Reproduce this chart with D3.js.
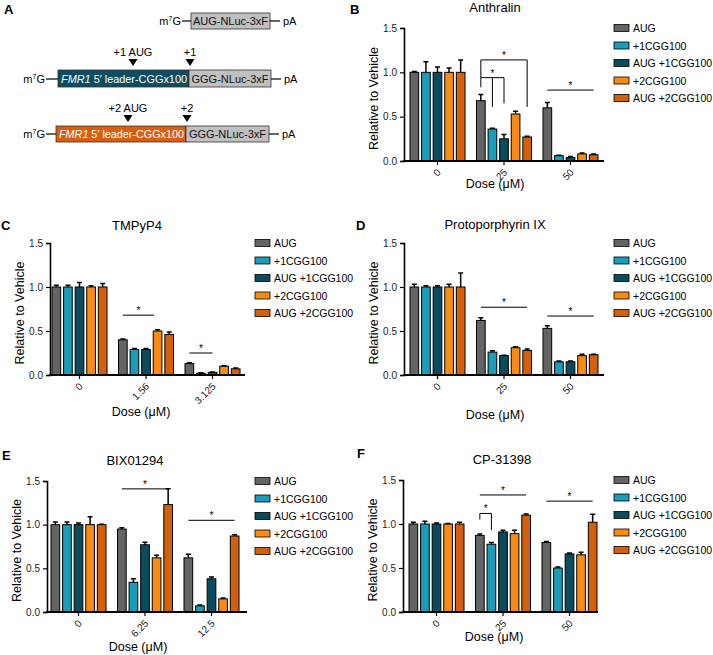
<!DOCTYPE html>
<html>
<head>
<meta charset="utf-8">
<script src="https://cdn.jsdelivr.net/npm/d3@7"></script>
<style>
  body { margin: 0; background: #fff; }
  svg { font-family: Arial, "Liberation Sans", Helvetica, sans-serif; }
</style>
</head>
<body>
<div id="chart"></div>
<script>
// series shared by every panel
var series = ["AUG", "+1CGG100", "AUG +1CGG100", "+2CGG100", "AUG +2CGG100"];
var seriesColors = ["#646464", "#1b9cb8", "#0c4a5d", "#f98b12", "#d4600c"];
var yTicks = [0, 0.5, 1.0, 1.5];

// B - Anthralin
var anthralinDoses = ["0", "25", "50"];
var anthralinMean = [[1.0, 1.0, 1.0, 1.0, 1.0], [0.68, 0.36, 0.25, 0.53, 0.27], [0.60, 0.06, 0.04, 0.08, 0.07]];
var anthralinErr = [[0.01, 0.12, 0.06, 0.05, 0.14], [0.07, 0.01, 0.05, 0.03, 0.01], [0.06, 0.005, 0.01, 0.01, 0.01]];
var anthralinSig = [
  {g: 1, from: 0, to: 4, y: 1.14, legs: [[0, 0.94], [4, 0.61]]},
  {g: 1, from: 0, to: 2, y: 0.94, legs: [[0, 0.83], [1, 0.61], [2, 0.65]]},
  {g: 2, from: 0, to: 4, y: 0.80, legs: []}
];

// C - TMPyP4
var tmpypDoses = ["0", "1.56", "3.125"];
var tmpypMean = [[1.0, 1.0, 1.0, 1.0, 1.0], [0.40, 0.29, 0.29, 0.50, 0.46], [0.13, 0.02, 0.03, 0.10, 0.07]];
var tmpypErr = [[0.02, 0.02, 0.05, 0.015, 0.04], [0.01, 0.01, 0.01, 0.015, 0.03], [0.01, 0.005, 0.005, 0.005, 0.01]];
var tmpypSig = [
  {g: 1, from: 0, to: 2.7, y: 0.68, legs: []},
  {g: 2, from: 0, to: 2, y: 0.25, legs: []}
];

// D - Protoporphyrin IX
var ppixDoses = ["0", "25", "50"];
var ppixMean = [[1.0, 1.0, 1.0, 1.0, 1.0], [0.62, 0.26, 0.22, 0.31, 0.28], [0.53, 0.15, 0.15, 0.22, 0.23]];
var ppixErr = [[0.03, 0.015, 0.015, 0.03, 0.16], [0.03, 0.015, 0.005, 0.01, 0.015], [0.03, 0.01, 0.01, 0.015, 0.005]];
var ppixSig = [
  {g: 1, from: 0, to: 4, y: 0.77, legs: []},
  {g: 2, from: 0, to: 4, y: 0.67, legs: []}
];

// E - BIX01294
var bixDoses = ["0", "6.25", "12.5"];
var bixMean = [[1.0, 1.0, 1.0, 1.0, 1.0], [0.95, 0.34, 0.77, 0.62, 1.23], [0.62, 0.07, 0.38, 0.15, 0.87]];
var bixErr = [[0.03, 0.03, 0.02, 0.09, 0.005], [0.015, 0.04, 0.03, 0.03, 0.18], [0.04, 0.01, 0.02, 0.01, 0.015]];
var bixSig = [
  {g: 1, from: 0, to: 4, y: 1.41, legs: []},
  {g: 2, from: 0, to: 4, y: 1.05, legs: []}
];

// F - CP-31398
var cpDoses = ["0", "25", "50"];
var cpMean = [[1.0, 1.0, 1.0, 1.0, 1.0], [0.87, 0.77, 0.91, 0.89, 1.10], [0.79, 0.50, 0.66, 0.65, 1.02]];
var cpErr = [[0.02, 0.03, 0.01, 0.005, 0.02], [0.015, 0.02, 0.02, 0.04, 0.015], [0.01, 0.01, 0.01, 0.03, 0.09]];
var cpSig = [
  {g: 1, from: 0, to: 4, y: 1.33, legs: []},
  {g: 1, from: 0, to: 1, y: 1.12, legs: [[0, 1.05], [1, 0.93]]},
  {g: 2, from: 0, to: 4, y: 1.26, legs: []}
];

var svg = d3.select("#chart").append("svg")
    .attr("width", 713)
    .attr("height", 655);

// ---------------- panel A: construct diagrams ----------------
var diag = svg.append("g").attr("font-size", "11px");

function m7G(x, y) {
  var t = diag.append("text").attr("x", x).attr("y", y).attr("text-anchor", "end");
  t.append("tspan").text("m");
  t.append("tspan").attr("font-size", "7px").attr("dy", -4).text("7");
  t.append("tspan").attr("dy", 4).text("G");
}
function tail(x, y) {
  diag.append("line").attr("x1", x).attr("x2", x + 10).attr("y1", y).attr("y2", y)
    .attr("stroke", "#000").attr("stroke-width", 1.2);
  diag.append("text").attr("x", x + 13).attr("y", y + 4).text("pA");
}
function box(x, y, w, h, fill, label, color) {
  diag.append("rect").attr("x", x).attr("y", y).attr("width", w).attr("height", h)
    .attr("fill", fill).attr("stroke", "#333").attr("stroke-width", 0.8);
  if (label) {
    diag.append("text").attr("x", x + w / 2).attr("y", y + h / 2 + 4)
      .attr("text-anchor", "middle").attr("fill", color).text(label);
  }
}
function leaderBox(x, y, w, h, fill) {
  box(x, y, w, h, fill);
  var t = diag.append("text").attr("x", x + 3).attr("y", y + h / 2 + 4).attr("fill", "#fff")
    .attr("textLength", w - 5).attr("lengthAdjust", "spacingAndGlyphs");
  t.append("tspan").attr("font-style", "italic").text("FMR1");
  t.append("tspan").text(" 5\u2032 leader-CGGx100");
}
function marker(x, y, label) {
  diag.append("path").attr("d", "M" + (x - 4.5) + "," + y + "L" + (x + 4.5) + "," + y + "L" + x + "," + (y + 7) + "Z")
    .attr("fill", "#000");
  diag.append("text").attr("x", x).attr("y", y - 3).attr("text-anchor", "middle").text(label);
}

// row 1
m7G(181, 25);
diag.append("line").attr("x1", 182).attr("x2", 191).attr("y1", 21).attr("y2", 21).attr("stroke", "#000").attr("stroke-width", 1.2);
box(191, 13, 79, 16, "#c0c0c0", "AUG-NLuc-3xF", "#111");
tail(270, 21);
// row 2
marker(133, 59, "+1 AUG");
marker(190, 59, "+1");
m7G(45, 83);
diag.append("line").attr("x1", 46).attr("x2", 58).attr("y1", 79).attr("y2", 79).attr("stroke", "#000").attr("stroke-width", 1.2);
leaderBox(58, 70, 131, 17, "#0d4d61");
box(189, 70, 82, 17, "#c0c0c0", "GGG-NLuc-3xF", "#111");
tail(271, 79);
// row 3
marker(128, 115, "+2 AUG");
marker(187, 115, "+2");
m7G(45, 138);
diag.append("line").attr("x1", 46).attr("x2", 56).attr("y1", 134).attr("y2", 134).attr("stroke", "#000").attr("stroke-width", 1.2);
leaderBox(56, 126, 130, 16, "#d95f0e");
box(186, 126, 83, 16, "#c0c0c0", "GGG-NLuc-3xF", "#111");
tail(269, 134);

svg.append("text").attr("x", 4).attr("y", 14).attr("font-weight", "bold").attr("font-size", "13px").text("A");

// ---------------- bar chart panels ----------------
var panels = [
  {letter: "B", lx: 350, ly: 14, title: "Anthralin", tx: 495, ty: 12, doses: anthralinDoses, mean: anthralinMean, err: anthralinErr, sig: anthralinSig,
   ax: 404, y0: 161, y15: 28, xEnd: 604, off: 6, legX: 614, doseDy: 27},
  {letter: "C", lx: 1, ly: 230, title: "TMPyP4", tx: 137, ty: 230, doses: tmpypDoses, mean: tmpypMean, err: tmpypErr, sig: tmpypSig,
   ax: 50, y0: 375, y15: 243, xEnd: 245, off: 2, legX: 255, doseDy: 41},
  {letter: "D", lx: 356, ly: 230, title: "Protoporphyrin IX", tx: 495, ty: 229, doses: ppixDoses, mean: ppixMean, err: ppixErr, sig: ppixSig,
   ax: 404, y0: 375, y15: 243, xEnd: 604, off: 6, legX: 614, doseDy: 44},
  {letter: "E", lx: 2, ly: 460, title: "BIX01294", tx: 135, ty: 465, doses: bixDoses, mean: bixMean, err: bixErr, sig: bixSig,
   ax: 47, y0: 612, y15: 481, xEnd: 247, off: 4, legX: 255, doseDy: 39},
  {letter: "F", lx: 357, ly: 458, title: "CP-31398", tx: 502, ty: 464, doses: cpDoses, mean: cpMean, err: cpErr, sig: cpSig,
   ax: 403, y0: 612, y15: 480, xEnd: 598, off: 6, legX: 614, doseDy: 29}
];

panels.forEach(drawPanel);

function drawPanel(p) {
  var g = svg.append("g");

  var y = d3.scaleLinear().domain([0, 1.5]).range([p.y0, p.y15]);
  var x0 = d3.scaleBand().domain(p.doses)
      .range([p.ax + p.off, p.ax + p.off + 188])
      .paddingInner(0.173).paddingOuter(0);
  var x1 = d3.scaleBand().domain(d3.range(series.length))
      .range([0, x0.bandwidth()])
      .paddingInner(0.25).paddingOuter(0);
  var bw = x1.bandwidth();

  function cx(gi, si) {
    return x0(p.doses[gi]) + x1.step() * si + bw / 2;
  }

  // bars
  var groups = g.selectAll(".grp")
      .data(p.doses)
    .enter().append("g")
      .attr("transform", function(d) { return "translate(" + x0(d) + ",0)"; });

  groups.each(function(d, gi) {
    var rows = series.map(function(s, si) {
      return {si: si, v: p.mean[gi][si], e: p.err[gi][si]};
    });
    var sel = d3.select(this);
    sel.selectAll("rect")
        .data(rows)
      .enter().append("rect")
        .attr("x", function(r) { return x1(r.si); })
        .attr("y", function(r) { return y(r.v); })
        .attr("width", bw)
        .attr("height", function(r) { return y(0) - y(r.v); })
        .attr("fill", function(r) { return seriesColors[r.si]; })
        .attr("stroke", "#000")
        .attr("stroke-width", 1);
    // upward error bars
    sel.selectAll(".err")
        .data(rows)
      .enter().append("path")
        .attr("d", function(r) {
          var c = x1(r.si) + bw / 2, top = y(r.v + r.e);
          return "M" + c + "," + y(r.v) + "V" + top + "M" + (c - 2.5) + "," + top + "H" + (c + 2.5);
        })
        .attr("fill", "none")
        .attr("stroke", "#000")
        .attr("stroke-width", 1.5);
  });

  // axes
  var yAxis = d3.axisLeft(y).tickValues(yTicks).tickFormat(d3.format(".1f")).tickSizeOuter(0).tickSize(4);
  var ya = g.append("g").attr("transform", "translate(" + p.ax + ",0)").call(yAxis);
  ya.select(".domain").attr("stroke-width", 1.6);
  ya.selectAll(".tick line").attr("stroke-width", 1.2);
  ya.selectAll("text").attr("font-size", "10px").attr("font-family", null).attr("fill", "#222");

  var xa = g.append("g").attr("transform", "translate(0," + p.y0 + ")");
  xa.append("line").attr("x1", p.ax - 0.8).attr("x2", p.xEnd).attr("y1", 0).attr("y2", 0)
    .attr("stroke", "#000").attr("stroke-width", 1.8);
  var xAxis = d3.axisBottom(x0).tickSize(4).tickSizeOuter(0).tickFormat("");
  var xt = g.append("g").attr("transform", "translate(0," + p.y0 + ")").call(xAxis);
  xt.select(".domain").remove();
  xt.selectAll(".tick line").attr("stroke-width", 1.2);
  // rotated dose labels
  g.selectAll(".dose")
      .data(p.doses)
    .enter().append("text")
      .attr("text-anchor", "end")
      .attr("font-size", "10px")
      .attr("fill", "#222")
      .attr("transform", function(d) {
        return "translate(" + (x0(d) + x0.bandwidth() / 2 + 4) + "," + (p.y0 + 12) + ") rotate(-45)";
      })
      .text(function(d) { return d; });

  // significance lines
  p.sig.forEach(function(s) {
    var xa1 = cx(s.g, s.from), xb = cx(s.g, s.to), yy = y(s.y);
    g.append("line").attr("x1", xa1).attr("x2", xb).attr("y1", yy).attr("y2", yy)
      .attr("stroke", "#000").attr("stroke-width", 1);
    s.legs.forEach(function(l) {
      var lx = cx(s.g, l[0]);
      g.append("line").attr("x1", lx).attr("x2", lx).attr("y1", yy).attr("y2", y(l[1]))
        .attr("stroke", "#000").attr("stroke-width", 1);
    });
    g.append("text").attr("x", (xa1 + xb) / 2).attr("y", yy - 1)
      .attr("text-anchor", "middle").attr("font-size", "10px").text("*");
  });

  // labels
  g.append("text").attr("x", p.ax - 26).attr("y", (p.y0 + p.y15) / 2 + 4)
    .attr("transform", "rotate(-90," + (p.ax - 26) + "," + ((p.y0 + p.y15) / 2 + 4) + ")")
    .attr("text-anchor", "middle").attr("font-size", "12.5px").text("Relative to Vehicle");
  g.append("text").attr("x", p.ax + 91).attr("y", p.y0 + p.doseDy)
    .attr("text-anchor", "middle").attr("font-size", "12.5px").text("Dose (\u03bcM)");
  g.append("text").attr("x", p.tx).attr("y", p.ty)
    .attr("text-anchor", "middle").attr("font-size", "13px").text(p.title);
  g.append("text").attr("x", p.lx).attr("y", p.ly)
    .attr("font-weight", "bold").attr("font-size", "13px").text(p.letter);

  // legend
  var leg = g.selectAll(".leg")
      .data(series)
    .enter().append("g")
      .attr("transform", function(d, i) { return "translate(" + p.legX + "," + (p.y15 + i * 17.5) + ")"; });
  leg.append("rect").attr("x", 0).attr("y", -3.5).attr("width", 15).attr("height", 7)
    .attr("fill", function(d, i) { return seriesColors[i]; })
    .attr("stroke", "#000").attr("stroke-width", 0.8);
  leg.append("text").attr("x", 19).attr("y", 4).attr("font-size", "10.5px").text(function(d) { return d; });
}
</script>
</body>
</html>
